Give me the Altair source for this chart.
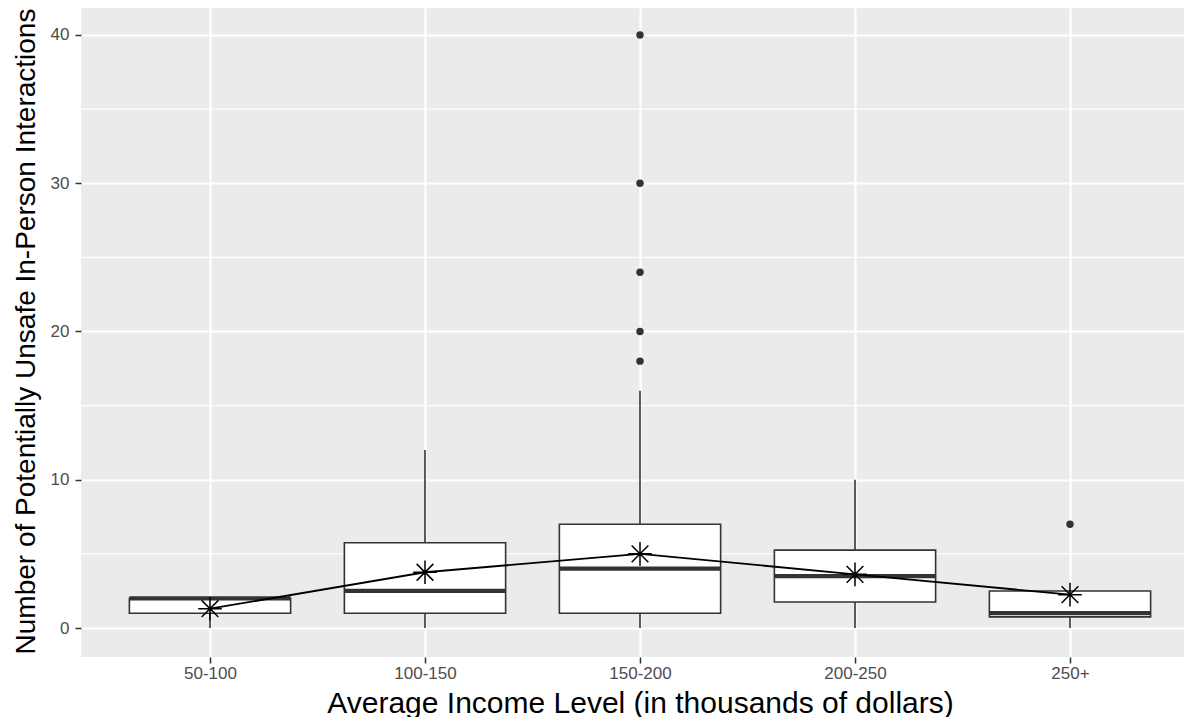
import json
import altair as alt
import pandas as pd

# ---- data ----
categories = ["50-100", "100-150", "150-200", "200-250", "250+"]
q1 = [1.0, 1.0, 1.0, 1.75, 0.75]
median = [2.0, 2.5, 4.0, 3.5, 1.0]
q3 = [2.0, 5.75, 7.0, 5.25, 2.5]
whisker_low = [0, 0, 0, 0, 0]
whisker_high = [2, 12, 16, 10, 2.5]
means = [1.3, 3.76, 5.0, 3.62, 2.25]
outlier_cat = ["150-200", "150-200", "150-200", "150-200", "150-200", "250+"]
outlier_val = [18, 20, 24, 30, 40, 7]
y_major = [0, 10, 20, 30, 40]
y_minor = [5, 15, 25, 35]

pos = {c: i + 1 for i, c in enumerate(categories)}
box_df = pd.DataFrame({
    "cat": categories,
    "pos": [pos[c] for c in categories],
    "q1": q1, "median": median, "q3": q3,
    "lo": whisker_low, "hi": whisker_high, "mean": means,
})
out_df = pd.DataFrame({"cat": outlier_cat, "pos": [pos[c] for c in outlier_cat], "val": outlier_val})
minor_df = pd.DataFrame({"y": y_minor})

FONT = "Liberation Sans"
DARK = "#333333"
HALF = 0.375
W = 1103
H = 649

label_expr = "[" + ",".join("'%s'" % c for c in categories) + "][datum.value - 1]"

x_scale = alt.Scale(domain=[0.4, 0.4 + W / 215], nice=False, zero=False)
y_scale = alt.Scale(domain=[-1.956, 41.82], nice=False, zero=False)

x_axis = alt.Axis(
    values=[1, 2, 3, 4, 5], labelExpr=label_expr,
    title="Average Income Level (in thousands of dollars)",
    titleFontSize=30, titleFont=FONT, titleColor="#000000", titleFontWeight="normal",
    titleX=559, titleY=55, titleAnchor="start", titleAlign="center", titleBaseline="alphabetic",
    labelFontSize=17, labelFont=FONT, labelColor="#4D4D4D", labelPadding=2,
    tickColor=DARK, tickSize=6, tickWidth=1.5,
    grid=True, gridColor="#FFFFFF", gridWidth=2.2, domain=False,
)
y_axis = alt.Axis(
    values=y_major,
    title="Number of Potentially Unsafe In-Person Interactions",
    titleFontSize=28, titleFont=FONT, titleColor="#000000", titleFontWeight="normal",
    titleAngle=270, titleX=-47, titleY=323, titleAlign="center", titleBaseline="alphabetic",
    titleAnchor="start",
    labelFontSize=17, labelFont=FONT, labelColor="#4D4D4D", labelPadding=6,
    tickColor=DARK, tickSize=6, tickWidth=1.5,
    grid=True, gridColor="#FFFFFF", gridWidth=2.2, domain=False,
)

base = alt.Chart(box_df)

minor = alt.Chart(minor_df).mark_rule(color="#FFFFFF", strokeWidth=1.1).encode(
    y=alt.Y("y:Q", scale=y_scale, axis=y_axis),
)

whisk = base.mark_rule(color=DARK, strokeWidth=1.6).encode(
    x=alt.X("pos:Q", scale=x_scale, axis=x_axis),
    y=alt.Y("lo:Q", scale=y_scale),
    y2="hi:Q",
)

boxes = base.transform_calculate(
    xl="datum.pos - %f" % HALF, xr="datum.pos + %f" % HALF
).mark_bar(fill="#FFFFFF", stroke=DARK, strokeWidth=1.6).encode(
    x=alt.X("xl:Q", scale=x_scale),
    x2="xr:Q",
    y=alt.Y("q1:Q", scale=y_scale),
    y2="q3:Q",
)

med = base.transform_calculate(
    xl="datum.pos - %f" % HALF, xr="datum.pos + %f" % HALF
).mark_rule(color=DARK, strokeWidth=4.2).encode(
    x=alt.X("xl:Q", scale=x_scale),
    x2="xr:Q",
    y=alt.Y("median:Q", scale=y_scale),
)

outl = alt.Chart(out_df).mark_circle(color=DARK, opacity=1, size=55).encode(
    x=alt.X("pos:Q", scale=x_scale),
    y=alt.Y("val:Q", scale=y_scale),
)

line = base.mark_line(color="#000000", strokeWidth=1.8).encode(
    x=alt.X("pos:Q", scale=x_scale),
    y=alt.Y("mean:Q", scale=y_scale),
)

STAR = "M-1,0L1,0M0,-1L0,1M-0.707,-0.707L0.707,0.707M-0.707,0.707L0.707,-0.707"
stars = base.mark_point(shape=STAR, filled=False, stroke="#000000", strokeWidth=1.5,
                        size=560, opacity=1).encode(
    x=alt.X("pos:Q", scale=x_scale),
    y=alt.Y("mean:Q", scale=y_scale),
)

chart = alt.layer(minor, whisk, boxes, med, outl, line, stars).properties(
    width=W, height=H,
    autosize=alt.AutoSizeParams(type="none"),
    padding={"left": 73, "top": 0, "right": 0, "bottom": 60},
    background="#FFFFFF",
).configure_view(
    fill="#EBEBEB", stroke=None,
)

chart.save("out.html", embed_options={"renderer": "svg", "actions": False})
